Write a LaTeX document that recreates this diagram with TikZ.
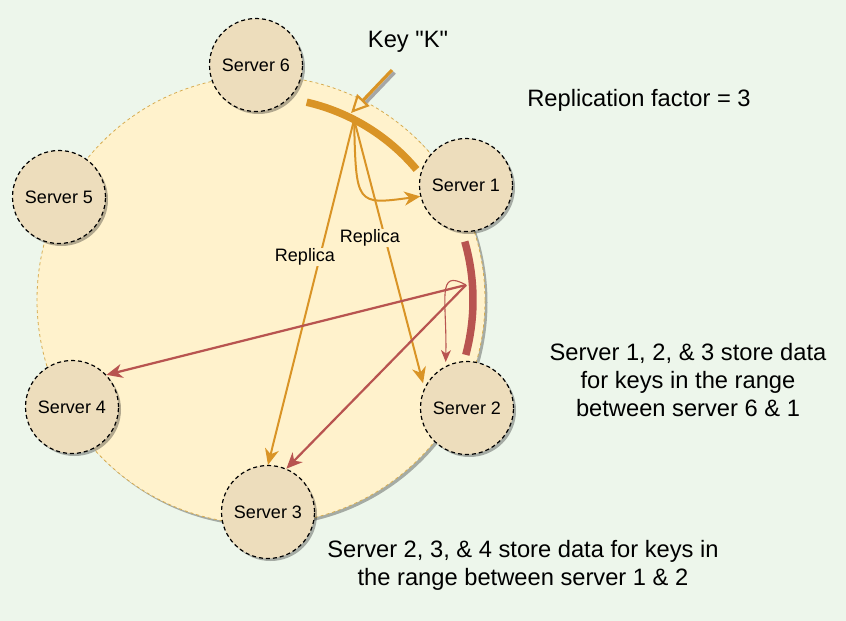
\documentclass[tikz,border=0pt]{standalone}
\usepackage{fontspec}
\setmainfont{Liberation Sans}
\newfontfamily\keyfont{Liberation Sans}
\usetikzlibrary{arrows.meta,shadows}
\definecolor{bgmint}{HTML}{EDF6EB}
\definecolor{ringfill}{HTML}{FFF2CC}
\definecolor{ringline}{HTML}{D6AC50}
\definecolor{srvfill}{HTML}{EDDDBC}
\definecolor{keyorange}{HTML}{D99426}
\definecolor{replred}{HTML}{B85450}
\begin{document}
\begin{tikzpicture}[x=1pt, y=-1pt,
    softshadow/.style={drop shadow={shadow xshift=2.5pt, shadow yshift=-2.5pt, fill=black, opacity=0.3}},
    ring/.style={circle, draw=ringline, line width=0.8pt, dash pattern=on 3pt off 3pt, fill=ringfill, minimum size=448pt, inner sep=0pt, softshadow},
    server/.style={circle, draw=black, line width=1.2pt, dash pattern=on 4pt off 3pt, fill=srvfill, minimum size=93pt, inner sep=0pt, font=\fontsize{18}{21}\selectfont, softshadow},
    infotext/.style={font=\fontsize{23.7}{28}\selectfont, align=center},
    replica/.style={font=\fontsize{18}{21}\selectfont, fill=ringfill, inner sep=1pt},
    orangearrow/.style={draw=keyorange, line width=2pt, -{Stealth[length=16pt, width=14pt, inset=5pt]}},
    redarrow/.style={draw=replred, line width=2.2pt, -{Stealth[length=16pt, width=14pt, inset=5pt]}},
    thinred/.style={draw=replred, line width=1.1pt, -{Stealth[length=12pt, width=10pt, inset=3.5pt]}}
  ]
    % Canvas
    \useasboundingbox[fill=bgmint] (0,0) rectangle (846,621);

    % Hash ring and servers
    \node[ring] (ring) at (261,300) {};
    \node[server] (s6) at (256,65) {Server 6};
    \node[server] (s1) at (466,185) {Server 1};
    \node[server] (s2) at (467,408) {Server 2};
    \node[server] (s3) at (268,512) {Server 3};
    \node[server] (s4) at (72,407) {Server 4};
    \node[server] (s5) at (59,197) {Server 5};

    % Key ranges
    \draw[keyorange, line width=7.5pt] ([shift={(ring.center)}]-77:203) arc[start angle=-77, end angle=-40, radius=203];
    \draw[replred, line width=7.5pt] ([shift={(ring.center)}]-16:212) arc[start angle=-16, end angle=15, radius=212];

    \coordinate (ko) at ([shift={(ring.center)}]-62.7:203);
    \coordinate (rk) at (466,285);
    \coordinate (keytail) at (392,70);
    \coordinate (keytip) at (351,113);

    % Key K
    \draw[black!35, line width=3.5pt, shorten >=16pt, transform canvas={shift={(2.5pt,-2.5pt)}}] (keytail) -- (keytip);
    \draw[keyorange, line width=3.2pt, -{Triangle[open, length=18pt, width=17pt, line width=2.2pt]}] (keytail) -- (keytip);

    % Replicas of K
    \draw[orangearrow] (ko) .. controls (356,205) .. (s1.194);
    \draw[orangearrow, shorten >=5pt] (ko) -- (s2.155);
    \draw[orangearrow] (ko) -- (s3.north);

    % Replicas of range 1-2
    \draw[thinred, shorten >=4pt] (rk) .. controls (436,268) and (447,300) .. (s2.117);
    \draw[redarrow] (rk) -- (s3.67);
    \draw[redarrow] (rk) -- (s4.43);

    \node[replica] (rep1) at (370,238) {Replica};
    \node[replica] (rep2) at (305,257) {Replica};

    % Notes
    \node[infotext, font=\fontsize{23.7}{28}\keyfont] (keylabel) at (408,42) {Key "K"};
    \node[infotext] (factor) at (639,100) {Replication factor = 3};
    \node[infotext] (range61) at (688,380) {Server 1, 2, \& 3 store data\\for keys in the range\\between server 6 \& 1};
    \node[infotext] (range12) at (523,565) {Server 2, 3, \& 4 store data for keys in\\the range between server 1 \& 2};
\end{tikzpicture}
\end{document}
